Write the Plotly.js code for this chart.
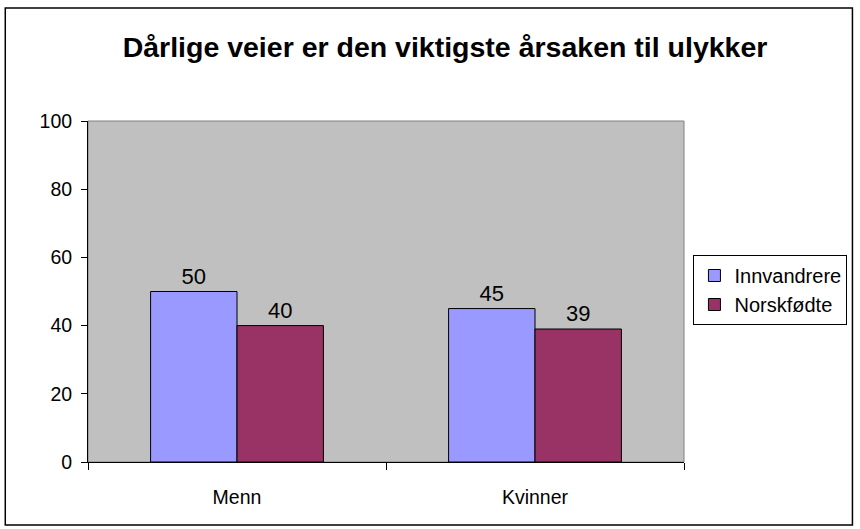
<!DOCTYPE html>
<html>
<head>
<meta charset="utf-8">
<script src="https://cdn.plot.ly/plotly-3.0.1.min.js"></script>
<style>
html,body{margin:0;padding:0;background:#fff;}
#chart{width:860px;height:529px;}
</style>
</head>
<body>
<div id="chart"></div>
<script>
const categories = ["Menn", "Kvinner"];
const seriesNames = ["Innvandrere", "Norskfødte"];
const innvandrere = [50, 45];
const norskfodte = [40, 39];
const yTicks = [0, 20, 40, 60, 80, 100];

const fam = "Liberation Sans, Arial, sans-serif";
const axisFont = {family: fam, size: 19.5, color: "#000"};
const labelFont = {family: fam, size: 22, color: "#000"};
const legendFont = {family: fam, size: 20, color: "#000"};

const traces = [
  {type: "bar", name: seriesNames[0], x: categories, y: innvandrere,
   text: innvandrere.map(String), textposition: "outside", cliponaxis: false,
   textfont: labelFont,
   marker: {color: "#9999FF", line: {color: "#000", width: 1}}},
  {type: "bar", name: seriesNames[1], x: categories, y: norskfodte,
   text: norskfodte.map(String), textposition: "outside", cliponaxis: false,
   textfont: labelFont,
   marker: {color: "#993366", line: {color: "#000", width: 1}}}
];

const L = 88, R = 174, T = 121, B = 67, W = 860, H = 529;
const pw = W - L - R, ph = H - T - B;
const px = p => (p - L) / pw;
const py = p => (H - B - p) / ph;

const layout = {
  width: W, height: H,
  margin: {l: L, r: R, t: T, b: B, pad: 0},
  paper_bgcolor: "#fff",
  plot_bgcolor: "#C0C0C0",
  font: axisFont,
  title: {text: "<b>Dårlige veier er den viktigste årsaken til ulykker</b>",
          font: {family: fam, size: 28.5, color: "#000"},
          x: 445 / W, xanchor: "center", xref: "container", y: 1 - 47 / H, yanchor: "middle"},
  barmode: "group",
  bargap: 0.42,
  bargroupgap: 0,
  showlegend: true,
  legend: {x: px(850), y: py(255), xanchor: "right", yanchor: "top",
           bordercolor: "#000", borderwidth: 1, bgcolor: "#fff",
           font: legendFont, itemwidth: 30},
  xaxis: {type: "category", showgrid: false, zeroline: false,
          showline: true, linecolor: "#000", linewidth: 1,
          ticks: "outside", tickson: "boundaries", ticklen: 7, tickcolor: "#000",
          tickfont: axisFont, ticklabelstandoff: 18},
  yaxis: {range: [0, 100], tickvals: yTicks, ticktext: yTicks.map(String),
          showgrid: false, zeroline: false,
          showline: true, linecolor: "#000", linewidth: 1,
          ticks: "outside", ticklen: 6, tickcolor: "#000",
          tickfont: axisFont, ticklabelstandoff: 5},
  shapes: [
    {type: "rect", xref: "paper", yref: "paper", x0: 0, x1: 1, y0: 0, y1: 1,
     line: {color: "#808080", width: 1}, fillcolor: "rgba(0,0,0,0)", layer: "below"},
    {type: "rect", xref: "paper", yref: "paper", x0: px(5), x1: px(855), y0: py(525), y1: py(8),
     line: {color: "#000", width: 1.5}, fillcolor: "rgba(0,0,0,0)"}
  ]
};

Plotly.newPlot("chart", traces, layout, {displayModeBar: false, staticPlot: true});
</script>
</body>
</html>
